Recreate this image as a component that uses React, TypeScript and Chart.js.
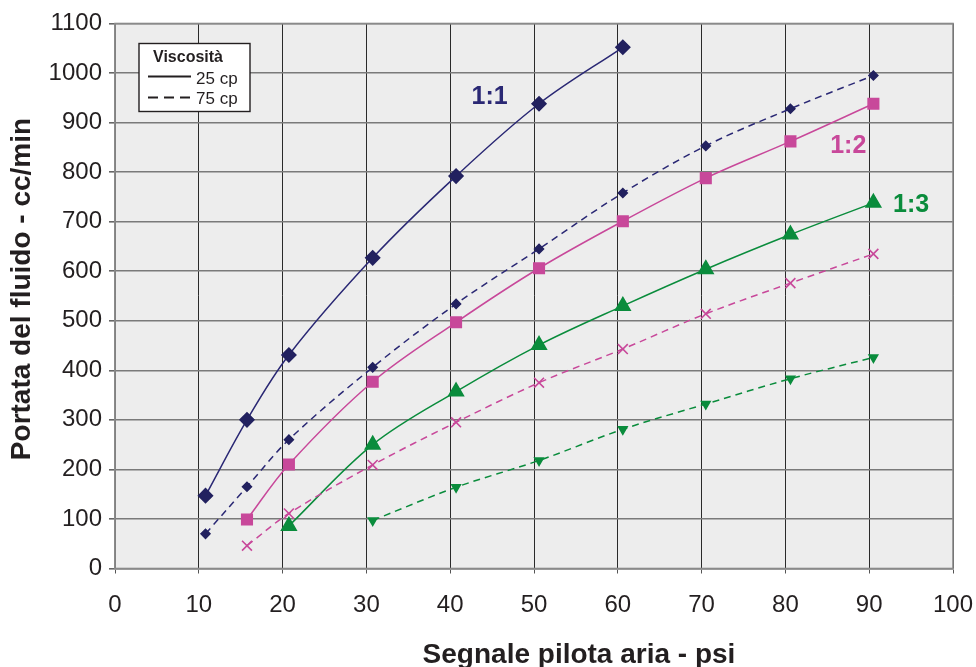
import React, { useEffect, useRef } from "react";
import { Chart, registerables } from "chart.js";

Chart.register(...registerables);

// Segnale pilota aria (psi) at which each reading was taken
const psiPoints = [10.8, 15.75, 20.75, 30.75, 40.7, 50.6, 60.6, 70.5, 80.6, 90.5];

// Portata (cc/min)
const ratio11_25cp = [147, 300, 431, 627, 792, 938, 1052];
const ratio11_75cp = [70, 165, 260, 406, 534, 645, 758, 853, 928, 995];
const ratio12_25cp = [99, 210, 377, 497, 606, 701, 788, 862, 938];
const ratio12_75cp = [46, 111, 209, 295, 375, 443, 514, 576, 635];
const ratio13_25cp = [86, 250, 357, 451, 530, 604, 674, 738];
const ratio13_75cp = [97, 164, 218, 281, 332, 383, 426];

const xTicks = [0, 10, 20, 30, 40, 50, 60, 70, 80, 90, 100];
const yTicks = [0, 100, 200, 300, 400, 500, 600, 700, 800, 900, 1000, 1100];

const ratioLabels = [
  { text: "1:1", x: 44.7, y: 952, color: "#2A2874" },
  { text: "1:2", x: 87.5, y: 852, color: "#C8489A" },
  { text: "1:3", x: 95.0, y: 733, color: "#0A8C3C" },
];

const xTitle = "Segnale pilota aria - psi";
const yTitle = "Portata del fluido - cc/min";
const legendTitle = "Viscosità";
const legendItems = ["25 cp", "75 cp"];

const FONT = "'Liberation Sans', Arial, Helvetica, sans-serif";
const NAVY = "#2A2874";
const NAVY_M = "#22215F";
const MAGENTA = "#C8489A";
const GREEN = "#0A8C3C";

function pts(values: number[], start: number) {
  return values.map((v, i) => ({ x: psiPoints[start + i], y: v }));
}

const decorPlugin = {
  id: "decor",
  beforeDraw(chart: any) {
    const { ctx, chartArea } = chart;
    ctx.save();
    ctx.fillStyle = "#EDEDED";
    ctx.fillRect(chartArea.left, chartArea.top, chartArea.right - chartArea.left, chartArea.bottom - chartArea.top);
    ctx.restore();
  },
  afterDraw(chart: any) {
    const { ctx, chartArea, scales } = chart;
    ctx.save();
    ctx.strokeStyle = "#8a8a8a";
    ctx.lineWidth = 1.6;
    ctx.strokeRect(chartArea.left, chartArea.top, chartArea.right - chartArea.left, chartArea.bottom - chartArea.top);

    ctx.font = `bold 25px ${FONT}`;
    ctx.textAlign = "center";
    ctx.textBaseline = "middle";
    ratioLabels.forEach((l) => {
      ctx.fillStyle = l.color;
      ctx.fillText(l.text, scales.x.getPixelForValue(l.x), scales.y.getPixelForValue(l.y));
    });

    const lx = chartArea.left + 24;
    const ly = chartArea.top + 20;
    const w = 111;
    const h = 68;
    ctx.fillStyle = "#FFFFFF";
    ctx.fillRect(lx, ly, w, h);
    ctx.strokeStyle = "#231F20";
    ctx.lineWidth = 1.4;
    ctx.strokeRect(lx, ly, w, h);
    ctx.fillStyle = "#231F20";
    ctx.textAlign = "left";
    ctx.textBaseline = "alphabetic";
    ctx.font = `bold 16px ${FONT}`;
    ctx.fillText(legendTitle, lx + 14, ly + 18);
    ctx.font = `17px ${FONT}`;
    ctx.lineWidth = 2;
    ctx.beginPath();
    ctx.moveTo(lx + 9, ly + 33);
    ctx.lineTo(lx + 52, ly + 33);
    ctx.stroke();
    ctx.fillText(legendItems[0], lx + 57, ly + 40);
    ctx.setLineDash([10, 6]);
    ctx.beginPath();
    ctx.moveTo(lx + 9, ly + 54);
    ctx.lineTo(lx + 52, ly + 54);
    ctx.stroke();
    ctx.setLineDash([]);
    ctx.fillText(legendItems[1], lx + 57, ly + 60);

    ctx.font = `bold 28px ${FONT}`;
    ctx.textAlign = "center";
    ctx.textBaseline = "middle";
    ctx.fillStyle = "#231F20";
    ctx.fillText(xTitle, 579, 655);
    ctx.translate(22, 289);
    ctx.rotate(-Math.PI / 2);
    ctx.fillText(yTitle, 0, 0);
    ctx.restore();
  },
};

export default function App() {
  const ref = useRef<HTMLCanvasElement | null>(null);

  useEffect(() => {
    if (!ref.current) return;
    const common = { tension: 0.35, borderWidth: 1.5, fill: false };
    const chart = new Chart(ref.current, {
      type: "line",
      data: {
        datasets: [
          {
            ...common,
            label: "1:1 25 cp",
            data: pts(ratio11_25cp, 0),
            borderColor: NAVY,
            pointBackgroundColor: NAVY_M,
            pointBorderColor: NAVY_M,
            pointStyle: "rectRot",
            pointRadius: 7,
          },
          {
            ...common,
            label: "1:1 75 cp",
            data: pts(ratio11_75cp, 0),
            borderColor: NAVY,
            borderDash: [7, 5],
            pointBackgroundColor: NAVY_M,
            pointBorderColor: NAVY_M,
            pointStyle: "rectRot",
            pointRadius: 4.5,
          },
          {
            ...common,
            label: "1:2 25 cp",
            data: pts(ratio12_25cp, 1),
            borderColor: MAGENTA,
            pointBackgroundColor: MAGENTA,
            pointBorderColor: MAGENTA,
            pointStyle: "rect",
            pointRadius: 7.5,
          },
          {
            ...common,
            label: "1:2 75 cp",
            data: pts(ratio12_75cp, 1),
            borderColor: MAGENTA,
            borderDash: [7, 5],
            pointBackgroundColor: MAGENTA,
            pointBorderColor: MAGENTA,
            pointBorderWidth: 1.6,
            pointStyle: "crossRot",
            pointRadius: 7,
          },
          {
            ...common,
            label: "1:3 25 cp",
            data: pts(ratio13_25cp, 2),
            borderColor: GREEN,
            pointBackgroundColor: GREEN,
            pointBorderColor: GREEN,
            pointStyle: "triangle",
            pointRadius: 8.5,
          },
          {
            ...common,
            label: "1:3 75 cp",
            data: pts(ratio13_75cp, 3),
            borderColor: GREEN,
            borderDash: [7, 5],
            pointBackgroundColor: GREEN,
            pointBorderColor: GREEN,
            pointStyle: "triangle",
            pointRotation: 180,
            pointRadius: 5,
          },
        ],
      },
      options: {
        animation: false,
        responsive: true,
        maintainAspectRatio: false,
        layout: { padding: { top: 23.5, right: 23, left: 0, bottom: 0 } },
        plugins: { legend: { display: false }, tooltip: { enabled: false } },
        scales: {
          x: {
            type: "linear",
            min: xTicks[0],
            max: xTicks[xTicks.length - 1],
            afterBuildTicks: (s: any) => {
              s.ticks = xTicks.map((v) => ({ value: v }));
            },
            afterFit: (s: any) => {
              s.height = 98.5;
              s.paddingLeft = 0;
              s.paddingRight = 0;
            },
            grid: { color: "#2a2a2a", lineWidth: 1, tickLength: 5, tickColor: "#555" },
            border: { color: "#8a8a8a", width: 1.6 },
            ticks: {
              color: "#231F20",
              padding: 17,
              font: { family: FONT, size: 24 },
              callback: (v: any) => String(v),
            },
          },
          y: {
            type: "linear",
            min: yTicks[0],
            max: yTicks[yTicks.length - 1],
            afterBuildTicks: (s: any) => {
              s.ticks = yTicks.map((v) => ({ value: v }));
            },
            afterFit: (s: any) => {
              s.width = 115;
              s.paddingTop = 0;
              s.paddingBottom = 0;
            },
            grid: { color: "#7a7a7a", lineWidth: 1.6, tickLength: 6, tickColor: "#666" },
            border: { color: "#8a8a8a", width: 1.6 },
            ticks: {
              color: "#231F20",
              padding: 7,
              font: { family: FONT, size: 24 },
              callback: (v: any) => String(v),
            },
          },
        },
      },
      plugins: [decorPlugin],
    } as any);
    return () => chart.destroy();
  }, []);

  return (
    <div style={{ position: "fixed", left: 0, top: 0, width: 976, height: 667, background: "#fff" }}>
      <canvas ref={ref} />
    </div>
  );
}
